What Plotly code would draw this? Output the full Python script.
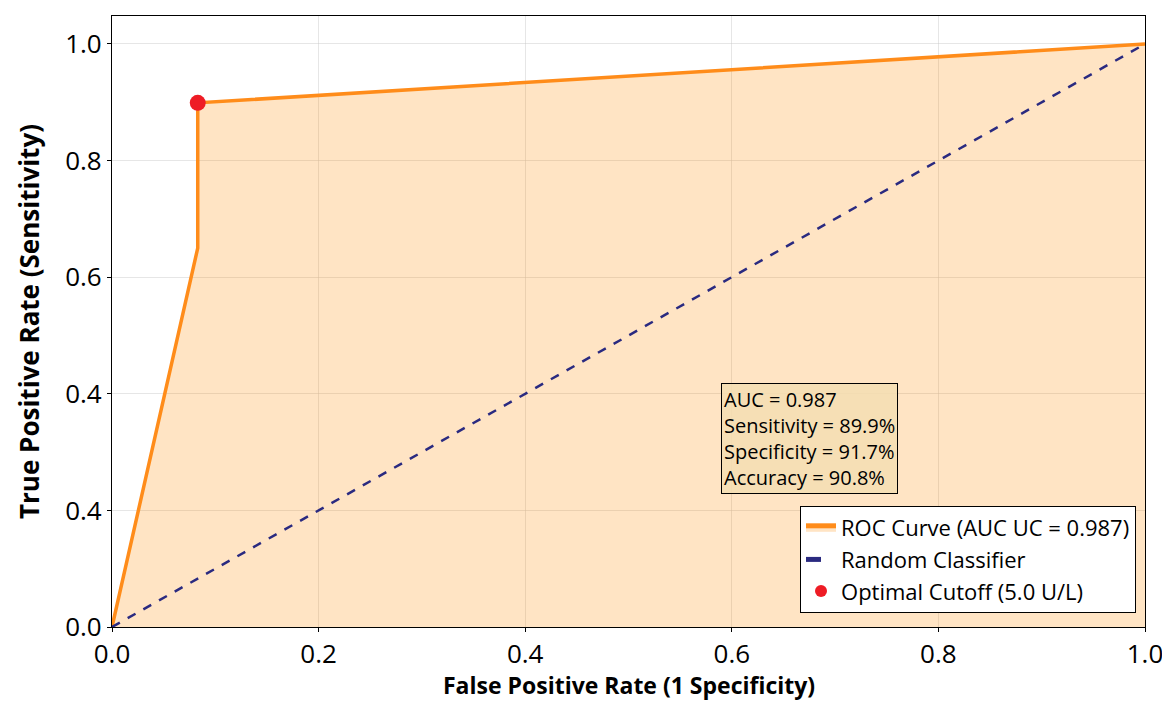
import plotly.graph_objects as go

# Data
roc_fpr = [0.0, 0.083, 0.083, 1.0]
roc_tpr = [0.0, 0.65, 0.899, 1.0]
rand_x = [0.0, 1.0]
rand_y = [0.0, 1.0]
cut_fpr = [0.083]
cut_tpr = [0.899]
x_ticks = [0.0, 0.2, 0.4, 0.6, 0.8, 1.0]
x_ticklabels = ["0.0", "0.2", "0.4", "0.6", "0.8", "1.0"]
y_ticks = [0.0, 0.2, 0.4, 0.6, 0.8, 1.0]
y_ticklabels = ["0.0", "0.4", "0.4", "0.6", "0.8", "1.0"]
stats_lines = ["AUC = 0.987", "Sensitivity = 89.9%", "Specificity = 91.7%", "Accuracy = 90.8%"]
x_title = "False Positive Rate (1 Specificity)"
y_title = "True Positive Rate (Sensitivity)"

FONT = "Open Sans"

fig = go.Figure()
fig.add_trace(go.Scatter(
    x=roc_fpr, y=roc_tpr, mode="lines", name="ROC Curve (AUC UC = 0.987)",
    line=dict(color="#FF8C1A", width=3.5), fill="tozeroy",
    fillcolor="rgba(255,140,0,0.23)",
))
fig.add_trace(go.Scatter(
    x=rand_x, y=rand_y, mode="lines", name="Random Classifier",
    line=dict(color="#2A2A80", width=2.5, dash="dash"),
))
fig.add_trace(go.Scatter(
    x=cut_fpr, y=cut_tpr, mode="markers", name="Optimal Cutoff (5.0 U/L)",
    marker=dict(color="#EE1C25", size=16),
))

fig.add_annotation(
    x=0.590, y=0.218, xref="paper", yref="paper", xanchor="left", yanchor="bottom",
    text="<br>".join(stats_lines), align="left", showarrow=False,
    font=dict(family=FONT, size=20, color="black"),
    bgcolor="rgba(245,222,179,0.85)", bordercolor="black", borderwidth=1, borderpad=2,
)

# x-axis title as an annotation so it stays inside the page
fig.add_annotation(
    x=0.5, y=-0.1235, xref="paper", yref="paper", xanchor="center", yanchor="bottom",
    text=f"<b>{x_title}</b>", showarrow=False, borderpad=0,
    font=dict(family=FONT, size=23, color="black"),
)

axis_common = dict(
    showline=True, linecolor="black", linewidth=1.2, mirror=True,
    ticks="outside", ticklen=4, tickcolor="black",
    showgrid=True, gridcolor="rgba(200,200,200,0.45)", gridwidth=1,
    zeroline=False, tickfont=dict(family=FONT, size=26, color="black"),
)

fig.update_xaxes(range=[0, 1], tickvals=x_ticks, ticktext=x_ticklabels, **axis_common)
fig.update_yaxes(
    range=[0, 1.048], tickvals=y_ticks, ticktext=y_ticklabels,
    title=dict(text=f"<b>{y_title}</b>",
               font=dict(family=FONT, size=26, color="black"), standoff=18),
    **axis_common,
)

fig.update_layout(
    width=1162, height=695,
    margin=dict(l=104, r=23, t=7, b=76),
    paper_bgcolor="white", plot_bgcolor="white",
    showlegend=True,
    legend=dict(
        x=0.9913, y=0.0229, xanchor="right", yanchor="bottom",
        bgcolor="white", bordercolor="black", borderwidth=1,
        font=dict(family=FONT, size=22, color="black"),
        tracegroupgap=0, itemsizing="constant",
    ),
)

fig.write_html("out.html")
